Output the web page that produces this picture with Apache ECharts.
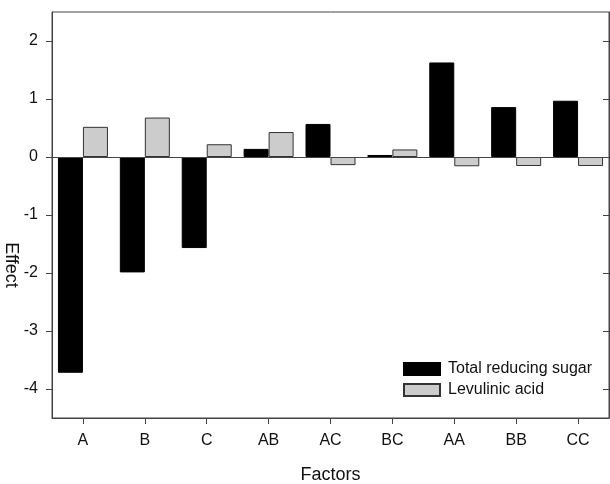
<!DOCTYPE html>
<html><head><meta charset="utf-8">
<script src="https://cdn.jsdelivr.net/npm/echarts@6/dist/echarts.min.js"></script>
<style>html,body{margin:0;padding:0;background:#fff}#c{width:610px;height:484px}</style>
</head><body><div id="c"></div>
<script>
var categories = ['A','B','C','AB','AC','BC','AA','BB','CC'];
var sugar = [-3.72, -1.99, -1.57, 0.14, 0.57, 0.035, 1.63, 0.86, 0.97];
var levulinic = [0.52, 0.68, 0.22, 0.43, -0.14, 0.13, -0.16, -0.155, -0.155];
var yTicks = [-4, -3, -2, -1, 0, 1, 2];

var chart = echarts.init(document.getElementById('c'));
var font = 'Liberation Sans, Arial, sans-serif';
chart.setOption({
  animation: false,
  textStyle: {fontFamily: font},
  grid: {left: 52, top: 12, right: 1, bottom: 66, show: true, borderColor: '#444', borderWidth: 1,
         backgroundColor: 'transparent', outerBoundsMode: 'none', containLabel: false},
  legend: {
    data: ['Total reducing sugar', 'Levulinic acid'],
    orient: 'vertical', left: 403, top: 361,
    icon: 'rect',
    itemWidth: 36, itemHeight: 12, itemGap: 5,
    textStyle: {fontSize: 16, color: '#111', fontFamily: font, padding: [0,0,0,3]},
    padding: 0
  },
  xAxis: {
    type: 'category', data: categories,
    name: 'Factors', nameLocation: 'middle', nameGap: 48,
    nameTextStyle: {fontSize: 18, color: '#111', fontFamily: font},
    axisLine: {onZero: false, lineStyle: {color: '#444', width: 1}},
    axisTick: {show: true, alignWithLabel: true, length: 6, lineStyle: {color: '#444'}},
    axisLabel: {fontSize: 16, color: '#111', margin: 15, fontFamily: font},
    splitLine: {show: false}
  },
  yAxis: [{
    type: 'value', min: -4.5, max: 2.5,
    axisLine: {show: true, lineStyle: {color: '#444'}},
    axisTick: {show: true, length: 6, customValues: yTicks, lineStyle: {color: '#444'}},
    axisLabel: {fontSize: 16, color: '#111', margin: 14, customValues: yTicks, fontFamily: font},
    splitLine: {show: false}
  }, {
    type: 'value', min: -4.5, max: 2.5, position: 'right',
    axisLine: {show: true, lineStyle: {color: '#444'}},
    axisTick: {show: true, inside: true, length: 6, customValues: yTicks, lineStyle: {color: '#444'}},
    axisLabel: {show: false},
    splitLine: {show: false}
  }],
  graphic: [{
    type: 'text', x: 11, y: 265, rotation: -Math.PI/2,
    style: {text: 'Effect', fill: '#111', font: '18px ' + font, align: 'center', verticalAlign: 'middle'}
  }],
  series: [{
    name: 'Total reducing sugar', type: 'bar', data: sugar,
    barWidth: 25, barGap: '0%',
    itemStyle: {color: '#000', borderColor: '#000', borderWidth: 1},
    markLine: {silent: true, symbol: 'none', label: {show: false},
      lineStyle: {color: '#444', width: 1, type: 'solid'}, data: [{yAxis: 0}]}
  }, {
    name: 'Levulinic acid', type: 'bar', data: levulinic,
    barWidth: 25, barGap: '0%',
    itemStyle: {color: '#cccccc', borderColor: '#333', borderWidth: 1}
  }]
});
</script></body></html>
